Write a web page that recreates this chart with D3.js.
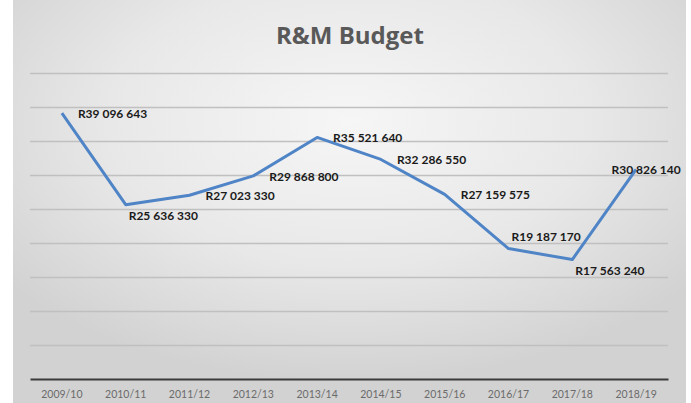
<!DOCTYPE html>
<html>
<head>
<meta charset="utf-8">
<script src="https://cdn.jsdelivr.net/npm/d3@7"></script>
<style>
  body { margin: 0; background: #fff; }
  svg { display: block; }
</style>
</head>
<body>
<svg></svg>
<script>
const years = ["2009/10", "2010/11", "2011/12", "2012/13", "2013/14",
    "2014/15", "2015/16", "2016/17", "2017/18", "2018/19"];
const budget = [39096643, 25636330, 27023330, 29868800, 35521640,
    32286550, 27159575, 19187170, 17563240, 30826140];
const yTicks = [0, 5e6, 10e6, 15e6, 20e6, 25e6, 30e6, 35e6, 40e6, 45e6];
// where each data label sits relative to its point
const labelPlace = ["right", "below", "right", "right", "right",
    "right", "right", "above", "below", "center"];

const width = 691, height = 403;
const margin = { top: 73, right: 23, bottom: 24, left: 30 };

const svg = d3.select("svg")
    .attr("width", width)
    .attr("height", height);

// background panel with soft gradient
const defs = svg.append("defs");
const grad = defs.append("radialGradient")
    .attr("id", "bg")
    .attr("cx", "50%").attr("cy", "30%").attr("r", "65%");
grad.append("stop").attr("offset", "0%").attr("stop-color", "#f6f6f6");
grad.append("stop").attr("offset", "55%").attr("stop-color", "#e8e8e8");
grad.append("stop").attr("offset", "100%").attr("stop-color", "#d2d2d2");

svg.append("rect")
    .attr("x", 13).attr("y", 0)
    .attr("width", 673).attr("height", height)
    .attr("fill", "url(#bg)");

const x = d3.scaleBand()
    .domain(years)
    .range([margin.left, width - margin.right]);

const y = d3.scaleLinear()
    .domain([0, 45e6])
    .range([height - margin.bottom, margin.top]);

// gridlines
svg.append("g")
    .attr("class", "grid")
    .selectAll("line")
    .data(yTicks.filter(d => d > 0))
    .enter().append("line")
    .attr("x1", margin.left)
    .attr("x2", width - margin.right)
    .attr("y1", d => Math.round(y(d)) + 0.5)
    .attr("y2", d => Math.round(y(d)) + 0.5)
    .attr("stroke", "#c0c0c0")
    .attr("stroke-width", 1.3);

// x axis
const xAxis = svg.append("g")
    .attr("transform", `translate(0,${y(0)})`)
    .call(d3.axisBottom(x).tickSize(0).tickPadding(12));
xAxis.select(".domain")
    .attr("stroke", "#3a3a3a")
    .attr("stroke-width", 2.2);
xAxis.selectAll("text")
    .attr("fill", "#6b6b6b")
    .style("font-family", "Lato, 'Open Sans', sans-serif")
    .style("font-size", "10.5px");

// title
svg.append("text")
    .attr("x", 350)
    .attr("y", 44)
    .attr("text-anchor", "middle")
    .attr("fill", "#595959")
    .style("font-family", "'Open Sans', sans-serif")
    .style("font-weight", "bold")
    .style("font-size", "24px")
    .text("R&M Budget");

const pts = budget.map((v, i) => ({
    year: years[i], value: v, place: labelPlace[i]
}));

const line = d3.line()
    .x(d => x(d.year) + x.bandwidth() / 2)
    .y(d => y(d.value));

svg.append("path")
    .datum(pts)
    .attr("fill", "none")
    .attr("stroke", "#4f84c6")
    .attr("stroke-width", 3)
    .attr("stroke-linejoin", "round")
    .attr("d", line);

function fmt(v) {
    return "R" + d3.format(",")(v).replace(/,/g, " ");
}

svg.append("g")
    .selectAll("text")
    .data(pts)
    .enter().append("text")
    .attr("x", d => {
        const cx = x(d.year) + x.bandwidth() / 2;
        if (d.place === "center") return cx + 10;
        if (d.place === "right") return cx + 16;
        return cx + 3;
    })
    .attr("y", d => {
        const cy = y(d.value);
        if (d.place === "below") return cy + 15;
        if (d.place === "above") return cy - 8;
        return cy + 5;
    })
    .attr("text-anchor", d => d.place === "center" ? "middle" : "start")
    .attr("fill", "#1a1a1a")
    .style("font-family", "Lato, 'Open Sans', sans-serif")
    .style("font-weight", "bold")
    .style("font-size", "12px")
    .text(d => fmt(d.value));
</script>
</body>
</html>
